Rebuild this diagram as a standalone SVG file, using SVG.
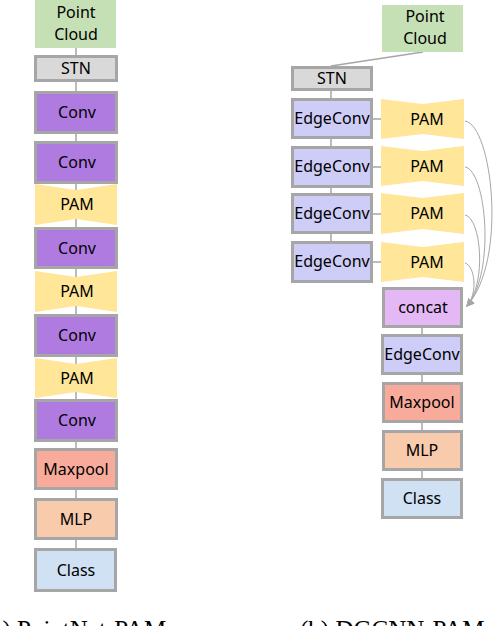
<svg xmlns="http://www.w3.org/2000/svg" width="494" height="626" viewBox="0 0 494 626">
<style>
  .b{stroke:#a6a6a6;stroke-width:3}
  .pc{fill:#c5e0b4}
  .stn{fill:#d9d9d9}
  .conv{fill:#b07be0}
  .ec{fill:#cdcdf7}
  .pam{fill:#ffe699}
  .cat{fill:#e4b8f4}
  .mp{fill:#f8ab9b}
  .mlp{fill:#f8cbad}
  .cls{fill:#cfe1f3}
  text{font-family:"Noto Sans","DejaVu Sans",sans-serif;font-size:16px;fill:#000;text-anchor:middle}
  .cap{font-family:"Liberation Serif","Times New Roman",serif;font-size:25px;text-anchor:start}
  .ln{stroke:#a6a6a6;stroke-width:1.5;fill:none}
  .cv{stroke:#a6a6a6;stroke-width:1;fill:none}
</style>
<defs>
  <marker id="ah" markerWidth="8" markerHeight="8" refX="7" refY="4" orient="auto" markerUnits="userSpaceOnUse">
    <path d="M0,0 L8,4 L0,8 Z" fill="#a6a6a6"/>
  </marker>
</defs>
<g id="connectors">
  <line class="ln" x1="76" y1="48" x2="76" y2="548"/>
  <line class="ln" x1="423" y1="52" x2="331" y2="66"/>
  <line class="ln" x1="331" y1="91" x2="331" y2="241"/>
  <line class="ln" x1="373" y1="119" x2="382" y2="119"/>
  <line class="ln" x1="373" y1="167" x2="382" y2="167"/>
  <line class="ln" x1="373" y1="214" x2="382" y2="214"/>
  <line class="ln" x1="373" y1="262" x2="382" y2="262"/>
  <line class="ln" x1="422" y1="328" x2="422" y2="478"/>
  <path class="cv" d="M465,121 C492,125 508,260 467,306" marker-end="url(#ah)"/>
  <path class="cv" d="M465,167 C486,170 496,272 467,306" marker-end="url(#ah)"/>
  <path class="cv" d="M465,215 C481,218 487,282 467,306" marker-end="url(#ah)"/>
  <path class="cv" d="M465,263 C475,266 478,293 467,306" marker-end="url(#ah)"/>
</g>
<!-- left column -->
<g id="a-pointcloud"><rect class="pc" x="35" y="0" width="81" height="48"/><text x="76" y="18">Point</text><text x="76" y="40">Cloud</text></g>
<g id="a-stn"><rect class="b stn" x="35.5" y="56.5" width="81" height="24"/><text x="76" y="74">STN</text></g>
<g id="a-conv1"><rect class="b conv" x="35.5" y="92.5" width="81" height="40"/><text x="77" y="118">Conv</text></g>
<g id="a-conv2"><rect class="b conv" x="35.5" y="142.5" width="81" height="40"/><text x="77" y="168">Conv</text></g>
<g id="a-pam1"><path class="pam" d="M35,184 L76,190 L117,184 L117,225 L76,219 L35,225 Z"/><text x="77" y="210">PAM</text></g>
<g id="a-conv3"><rect class="b conv" x="35.5" y="228.5" width="81" height="39"/><text x="77" y="254">Conv</text></g>
<g id="a-pam2"><path class="pam" d="M35,271 L76,277 L117,271 L117,312 L76,306 L35,312 Z"/><text x="77" y="297">PAM</text></g>
<g id="a-conv4"><rect class="b conv" x="35.5" y="315.5" width="81" height="40"/><text x="77" y="341">Conv</text></g>
<g id="a-pam3"><path class="pam" d="M35,358 L76,364 L117,358 L117,398 L76,392 L35,398 Z"/><text x="77" y="384">PAM</text></g>
<g id="a-conv5"><rect class="b conv" x="35.5" y="400.5" width="81" height="40"/><text x="77" y="426">Conv</text></g>
<g id="a-maxpool"><rect class="b mp" x="35.5" y="449.5" width="81" height="39"/><text x="76" y="475">Maxpool</text></g>
<g id="a-mlp"><rect class="b mlp" x="35.5" y="499.5" width="81" height="39"/><text x="76" y="525">MLP</text></g>
<g id="a-class"><rect class="b cls" x="35.5" y="549.5" width="80" height="41"/><text x="76" y="576">Class</text></g>
<!-- right column -->
<g id="b-pointcloud"><rect class="pc" x="382" y="5" width="81" height="47"/><text x="425" y="22">Point</text><text x="425" y="44">Cloud</text></g>
<g id="b-stn"><rect class="b stn" x="292.5" y="67.5" width="79" height="22"/><text x="332" y="84">STN</text></g>
<g id="b-edgeconv1"><rect class="b ec" x="292.5" y="99.5" width="79" height="38"/><text x="332" y="124">EdgeConv</text></g>
<g id="b-edgeconv2"><rect class="b ec" x="292.5" y="147.5" width="79" height="39"/><text x="332" y="172">EdgeConv</text></g>
<g id="b-edgeconv3"><rect class="b ec" x="292.5" y="194.5" width="79" height="38"/><text x="332" y="219">EdgeConv</text></g>
<g id="b-edgeconv4"><rect class="b ec" x="292.5" y="242.5" width="79" height="39"/><text x="332" y="267">EdgeConv</text></g>
<g id="b-pam1"><path class="pam" d="M381,99 L422.5,104 L464,99 L464,139 L422.5,134 L381,139 Z"/><text x="427" y="125">PAM</text></g>
<g id="b-pam2"><path class="pam" d="M381,146 L422.5,151 L464,146 L464,186 L422.5,181 L381,186 Z"/><text x="427" y="172">PAM</text></g>
<g id="b-pam3"><path class="pam" d="M381,193 L422.5,198 L464,193 L464,234 L422.5,229 L381,234 Z"/><text x="427" y="219">PAM</text></g>
<g id="b-pam4"><path class="pam" d="M381,242 L422.5,247 L464,242 L464,282 L422.5,277 L381,282 Z"/><text x="427" y="268">PAM</text></g>
<g id="b-concat"><rect class="b cat" x="383.5" y="288.5" width="78" height="38"/><text x="423" y="313">concat</text></g>
<g id="b-edgeconv5"><rect class="b ec" x="382.5" y="335.5" width="79" height="38"/><text x="422" y="360">EdgeConv</text></g>
<g id="b-maxpool"><rect class="b mp" x="383.5" y="383.5" width="78" height="38"/><text x="422" y="408">Maxpool</text></g>
<g id="b-mlp"><rect class="b mlp" x="383.5" y="431.5" width="78" height="38"/><text x="422" y="456">MLP</text></g>
<g id="b-class"><rect class="b cls" x="382.5" y="479.5" width="79" height="38"/><text x="422" y="504">Class</text></g>
<text class="cap" x="-17" y="638">(a) PointNet-PAM</text>
<text class="cap" x="300" y="638">(b) DGCNN-PAM</text>
</svg>
